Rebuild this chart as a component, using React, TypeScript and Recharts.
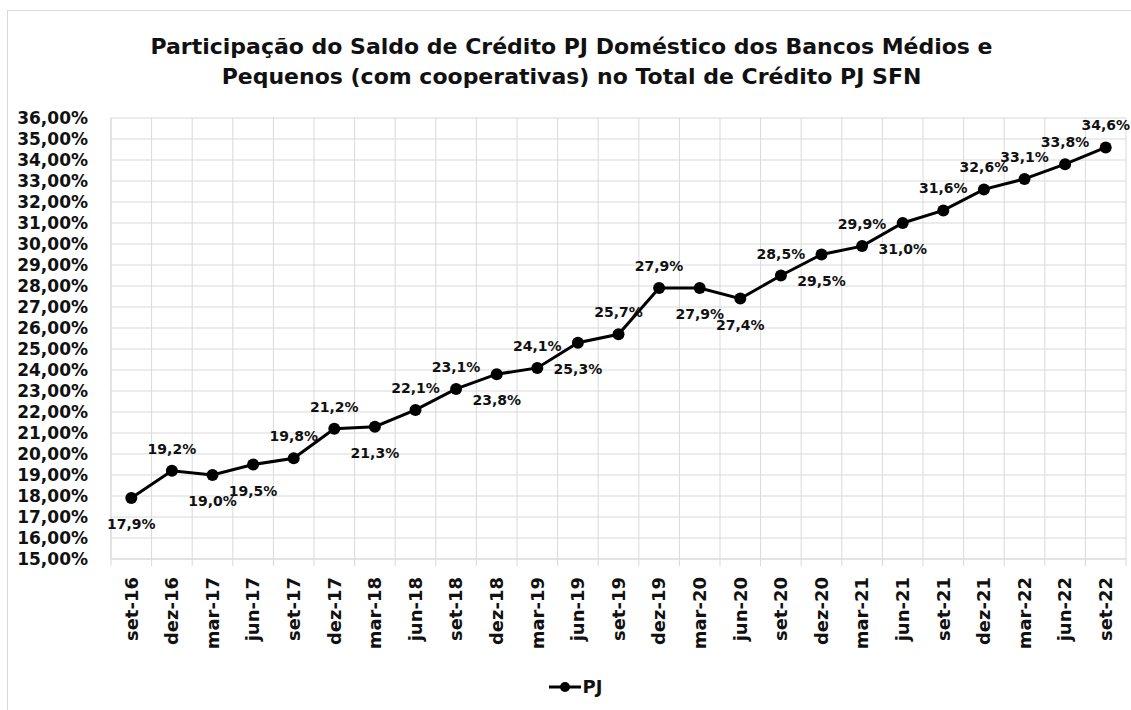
import {
  CartesianGrid,
  LabelList,
  Legend,
  Line,
  LineChart,
  XAxis,
  YAxis,
} from 'recharts';

const FONT = '"DejaVu Sans", Verdana, sans-serif';
const INK = '#111111';
const GRID = '#d9d9d9';

const quarters = [
  'set-16', 'dez-16', 'mar-17', 'jun-17', 'set-17', 'dez-17', 'mar-18',
  'jun-18', 'set-18', 'dez-18', 'mar-19', 'jun-19', 'set-19', 'dez-19',
  'mar-20', 'jun-20', 'set-20', 'dez-20', 'mar-21', 'jun-21', 'set-21',
  'dez-21', 'mar-22', 'jun-22', 'set-22',
];

const pjShare = [
  17.9, 19.2, 19.0, 19.5, 19.8, 21.2, 21.3, 22.1, 23.1, 23.8, 24.1, 25.3,
  25.7, 27.9, 27.9, 27.4, 28.5, 29.5, 29.9, 31.0, 31.6, 32.6, 33.1, 33.8, 34.6,
];

// which side of the marker each value label sits on
const labelSide = [
  'below', 'above', 'below', 'below', 'above', 'above', 'below', 'above',
  'above', 'below', 'above', 'below', 'above', 'above', 'below', 'below',
  'above', 'below', 'above', 'below', 'above', 'above', 'above', 'above', 'above',
];

const yTicks = [
  15, 16, 17, 18, 19, 20, 21, 22, 23, 24, 25, 26, 27, 28, 29, 30, 31, 32, 33,
  34, 35, 36,
];

const data = quarters.map((quarter, i) => ({ quarter, pj: pjShare[i] }));

const pct = (v: number) => `${v.toFixed(1).replace('.', ',')}%`;

// Excel-style category axis: grid lines and tick marks sit between categories
const bandEdges = ({ offset }: any) =>
  quarters
    .map((_, i) => offset.left + (i * offset.width) / quarters.length)
    .concat(offset.left + offset.width);

function QuarterTick(props: any) {
  const { x, y, payload, index } = props;
  const half = payload?.offset ?? 0;
  const axisY = y - 8;
  const last = index === quarters.length - 1;
  return (
    <g>
      <line x1={x - half} y1={axisY} x2={x - half} y2={axisY + 7} stroke={GRID} />
      {last && (
        <line x1={x + half} y1={axisY} x2={x + half} y2={axisY + 7} stroke={GRID} />
      )}
      <text
        transform={`translate(${x},${axisY + 18}) rotate(-90)`}
        textAnchor="end"
        dy="0.35em"
        fill={INK}
        fontFamily={FONT}
        fontWeight={700}
        fontSize={18}
      >
        {payload.value}
      </text>
    </g>
  );
}

function PointLabel(props: any) {
  const { x, y, value, index } = props;
  const above = labelSide[index] === 'above';
  return (
    <text
      x={x}
      y={above ? y - 17 : y + 31}
      textAnchor="middle"
      fill={INK}
      fontFamily={FONT}
      fontWeight={700}
      fontSize={14}
    >
      {pct(value)}
    </text>
  );
}

function PjLegend(props: any) {
  const items = props.payload ?? [];
  return (
    <div
      style={{
        display: 'flex',
        justifyContent: 'center',
        alignItems: 'center',
        fontFamily: FONT,
        fontWeight: 700,
        fontSize: 18,
        color: INK,
      }}
    >
      {items.map((item: any) => (
        <span key={item.value} style={{ display: 'flex', alignItems: 'center' }}>
          <svg width={32} height={14}>
            <line x1={0} y1={7} x2={32} y2={7} stroke={item.color} strokeWidth={3} />
            <circle cx={16} cy={7} r={5} fill={item.color} />
          </svg>
          <span style={{ marginLeft: 2 }}>{item.value}</span>
        </span>
      ))}
    </div>
  );
}

export default function App() {
  return (
    <div
      style={{
        position: 'absolute',
        left: 0,
        top: 0,
        width: 1131,
        height: 710,
        overflow: 'hidden',
        background: '#ffffff',
      }}
    >
      <div
        style={{
          position: 'absolute',
          left: 7,
          top: 10,
          width: 1140,
          height: 720,
          border: `1px solid ${GRID}`,
        }}
      />
      <div
        style={{
          position: 'absolute',
          left: 6,
          top: 32,
          width: 1131,
          textAlign: 'center',
          fontFamily: FONT,
          fontWeight: 700,
          fontSize: 22,
          lineHeight: '30px',
          color: INK,
        }}
      >
        Participação do Saldo de Crédito PJ Doméstico dos Bancos Médios e
        <br />
        Pequenos (com cooperativas) no Total de Crédito PJ SFN
      </div>
      <LineChart
        width={1131}
        height={710}
        data={data}
        margin={{ top: 118, right: 5, bottom: 51, left: 0 }}
        style={{ position: 'absolute', left: 0, top: 0 }}
      >
        <CartesianGrid stroke={GRID} verticalCoordinatesGenerator={bandEdges} />
        <XAxis
          dataKey="quarter"
          scale="band"
          interval={0}
          height={100}
          tickLine={false}
          axisLine={{ stroke: GRID }}
          tick={<QuarterTick />}
        />
        <YAxis
          type="number"
          domain={[15, 36]}
          ticks={yTicks}
          interval={0}
          width={111}
          tickLine={false}
          axisLine={{ stroke: GRID }}
          tickMargin={17}
          tickFormatter={(v: number) => `${v},00%`}
          tick={{ fill: INK, fontFamily: FONT, fontWeight: 700, fontSize: 17 }}
        />
        <Legend
          verticalAlign="middle"
          align="center"
          wrapperStyle={{ top: 676, left: 10, width: 1131 }}
          content={<PjLegend />}
        />
        <Line
          type="linear"
          dataKey="pj"
          name="PJ"
          stroke="#000000"
          strokeWidth={3}
          dot={{ r: 6, fill: '#000000', stroke: '#000000', strokeWidth: 0 }}
          activeDot={false}
          isAnimationActive={false}
        >
          <LabelList dataKey="pj" content={<PointLabel />} />
        </Line>
      </LineChart>
    </div>
  );
}
